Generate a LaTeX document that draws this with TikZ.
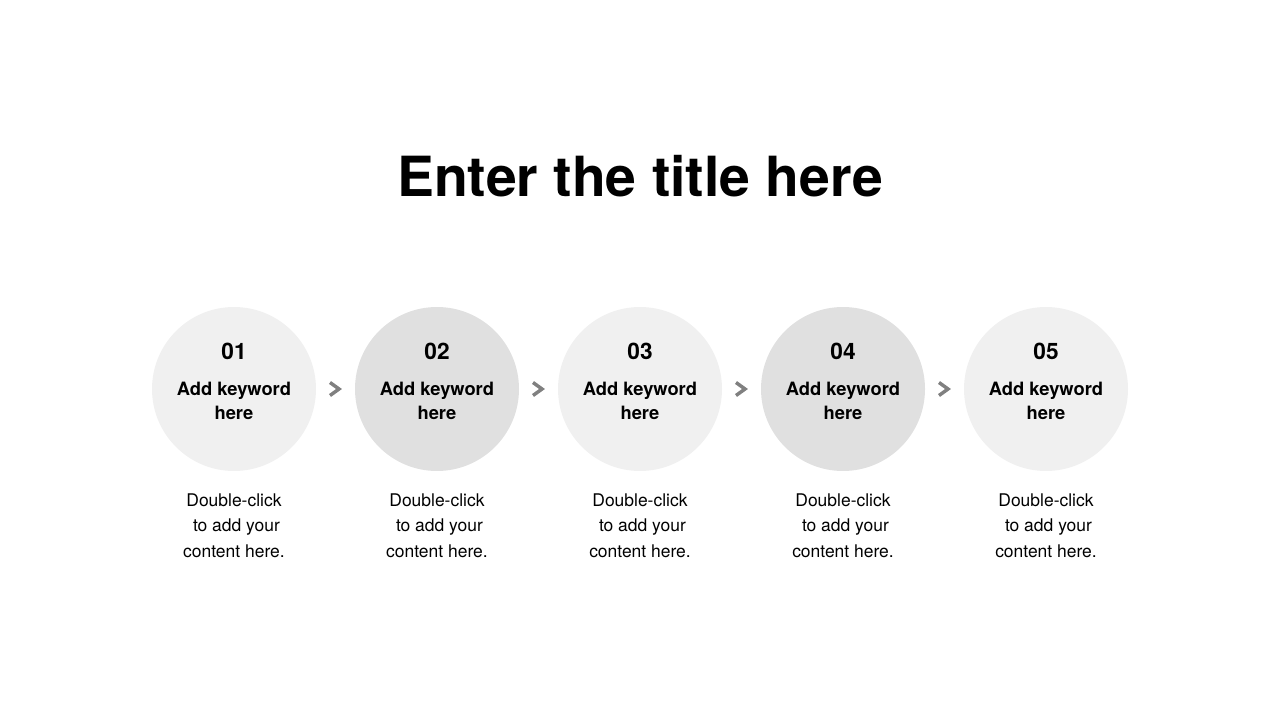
\documentclass[tikz,border=0pt]{standalone}
\usepackage{fontspec}
\setmainfont{TeX Gyre Heros}
\usetikzlibrary{calc}

\definecolor{circlelight}{RGB}{240,240,240}
\definecolor{circledark}{RGB}{224,224,224}
\definecolor{chevrongray}{RGB}{128,128,128}

\tikzset{
  stepcircle/.style={circle,minimum size=123pt,inner sep=0pt},
  stepnum/.style={anchor=center,inner sep=0.75pt,font=\fontsize{17}{20}\selectfont\bfseries},
  stepkey/.style={anchor=center,inner sep=0.75pt,align=center,font=\fontsize{13.75}{18}\selectfont\bfseries},
  stepbody/.style={anchor=north,inner sep=0.75pt,align=center,font=\fontsize{13.1}{19.2}\selectfont},
  chevron/.style={draw=chevrongray,line width=2.6pt,miter limit=10}
}

\begin{document}
\begin{tikzpicture}[x=0.75pt,y=0.75pt,yscale=-1,xscale=1]
%set diagram size to 1280x720
\useasboundingbox (0,0) rectangle (1280,720);

% Title
\node (title) at (640,176) [inner sep=0.75pt] {\fontsize{41.5}{48}\selectfont\bfseries Enter the title here};

%Shape: Circles with number, keyword and body text
\foreach \i/\x/\fillc in {1/234/circlelight,2/437/circledark,3/640/circlelight,4/843/circledark,5/1046/circlelight}{
  \node (c\i) at (\x,389) [stepcircle,fill=\fillc] {};
  \node (n\i) at (\x,351) [stepnum] {0\i};
  \node (k\i) at (\x,401) [stepkey] {Add keyword\\here};
  \node (b\i) at (\x,492) [stepbody] {Double-click\\\ to add your\\content here.};
}

%Shape: Chevrons between circles
\foreach \a/\b in {1/2,2/3,3/4,4/5}{
  \coordinate (m\a) at ($(c\a)!0.5!(c\b)$);
  \draw [chevron] ($(m\a)+(-5.5,-6.5)$) -- ($(m\a)+(3.5,0)$) -- ($(m\a)+(-5.5,6.5)$);
}

\end{tikzpicture}
\end{document}
